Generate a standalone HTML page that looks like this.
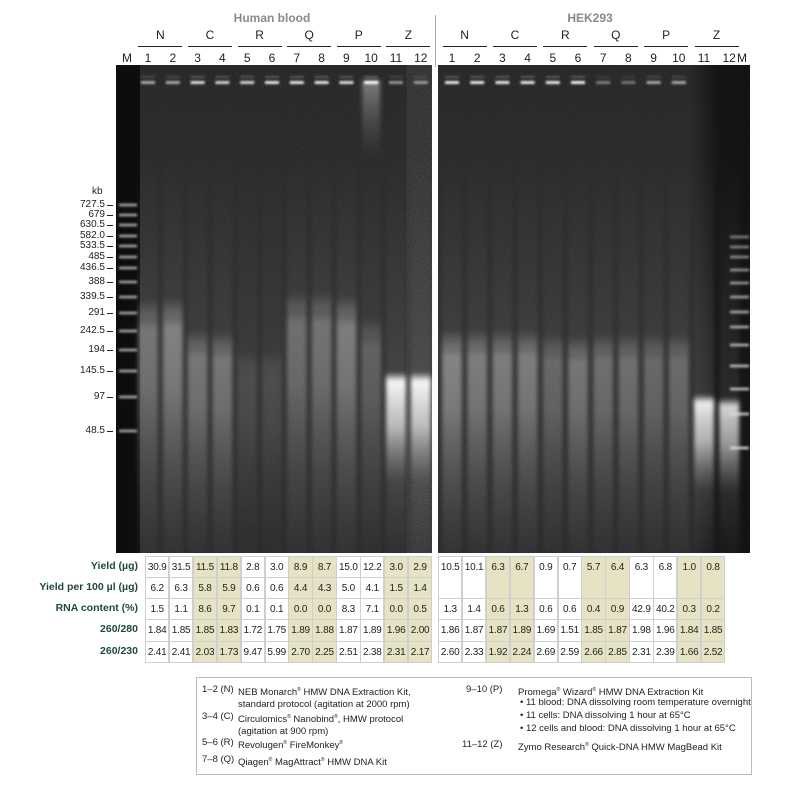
<!DOCTYPE html>
<html><head><meta charset="utf-8">
<style>
body{margin:0;background:#fff;font-family:"Liberation Sans",sans-serif;}
#root{position:relative;width:800px;height:786px;overflow:hidden;}
.t{position:absolute;white-space:nowrap;}
</style></head>
<body>
<div id="root">
<svg id="gel" width="800" height="786" style="position:absolute;left:0;top:0">
<defs>
<filter id="blur2" x="-40%" y="-10%" width="180%" height="120%"><feGaussianBlur stdDeviation="2.2"/></filter>
<filter id="blur1" x="-40%" y="-100%" width="180%" height="300%"><feGaussianBlur stdDeviation="1"/></filter>
<filter id="noise"><feTurbulence type="fractalNoise" baseFrequency="0.9" numOctaves="1" seed="3"/><feColorMatrix values="0 0 0 0 1 0 0 0 0 1 0 0 0 0 1 0 0 0 0.12 0"/></filter>
<linearGradient id="bgL" x1="0" y1="0" x2="0" y2="1"><stop offset="0" stop-color="#1c1c1c"/><stop offset="0.6" stop-color="#252525"/><stop offset="1" stop-color="#1e1e1e"/></linearGradient>
<linearGradient id="hz" x1="0" y1="0" x2="0" y2="1"><stop offset="0" stop-color="#777" stop-opacity="0"/><stop offset="1" stop-color="#777" stop-opacity="1"/></linearGradient>
<linearGradient id="rdark" x1="0" y1="0" x2="1" y2="0"><stop offset="0" stop-color="#0e0e0e" stop-opacity="0"/><stop offset="0.5" stop-color="#0e0e0e" stop-opacity="0.8"/><stop offset="1" stop-color="#0e0e0e" stop-opacity="0.8"/></linearGradient>
</defs>
<g id="panels"></g>
<g id="lanes"></g>
</svg>
<div id="txt"></div>
</div>
<script>
// ---- data ----
const kbLabels = [727.5,679,630.5,582.0,533.5,485,436.5,388,339.5,291,242.5,194,145.5,97,48.5];
const kbLabelText = ["727.5","679","630.5","582.0","533.5","485","436.5","388","339.5","291","242.5","194","145.5","97","48.5"];
const groups = ["N","C","R","Q","P","Z"];
const rowLabels = ["Yield (µg)","Yield per 100 µl (µg)","RNA content (%)","260/280","260/230"];
const bloodYield = ["30.9","31.5","11.5","11.8","2.8","3.0","8.9","8.7","15.0","12.2","3.0","2.9"];
const bloodYield100 = ["6.2","6.3","5.8","5.9","0.6","0.6","4.4","4.3","5.0","4.1","1.5","1.4"];
const bloodRNA = ["1.5","1.1","8.6","9.7","0.1","0.1","0.0","0.0","8.3","7.1","0.0","0.5"];
const blood280 = ["1.84","1.85","1.85","1.83","1.72","1.75","1.89","1.88","1.87","1.89","1.96","2.00"];
const blood230 = ["2.41","2.41","2.03","1.73","9.47","5.99","2.70","2.25","2.51","2.38","2.31","2.17"];
const hekYield = ["10.5","10.1","6.3","6.7","0.9","0.7","5.7","6.4","6.3","6.8","1.0","0.8"];
const hekRNA = ["1.3","1.4","0.6","1.3","0.6","0.6","0.4","0.9","42.9","40.2","0.3","0.2"];
const hek280 = ["1.86","1.87","1.87","1.89","1.69","1.51","1.85","1.87","1.98","1.96","1.84","1.85"];
const hek230 = ["2.60","2.33","1.92","2.24","2.69","2.59","2.66","2.85","2.31","2.39","1.66","2.52"];
// smear: top size (kb), brightness (0-1), well brightness
const bloodSmearTop = [280,285,200,195,150,150,300,300,290,230,110,110];
const bloodSmearBright = [0.5,0.58,0.5,0.5,0.2,0.2,0.45,0.48,0.55,0.35,0.95,0.95];
const bloodWell = [0.6,0.6,0.85,0.8,0.8,0.9,0.9,0.9,0.85,1.0,0.5,0.5];
const hekSmearTop = [200,200,200,200,190,185,190,190,190,190,75,70];
const hekSmearBright = [0.6,0.55,0.55,0.55,0.4,0.5,0.45,0.45,0.4,0.42,0.9,0.8];
const hekWell = [0.9,0.9,0.9,0.9,0.9,0.95,0.4,0.35,0.6,0.6,0,0];

// ---- scales ----
const kbY = [205,215,225,236,246,257,268,282,297,313,331,350,371,397,431];
function yOfKb(k){
  if(k>=kbLabels[0]) return kbY[0];
  for(let i=0;i<kbLabels.length-1;i++){
    const a=kbLabels[i],b=kbLabels[i+1];
    if(k<=a&&k>=b) return kbY[i]+(a-k)/(a-b)*(kbY[i+1]-kbY[i]);
  }
  return kbY[kbY.length-1]+(48.5-k)*0.7;
}
const NS="http://www.w3.org/2000/svg";
const L={x0:116,x1:432,lane0:148,step:24.8}, R={x0:438,x1:750,lane0:452,step:25.2};
const GT=65, GB=553;
function laneX(p,i){return p.lane0+p.step*i;}
function mk(tag,attrs,parent){const e=document.createElementNS(NS,tag);for(const k in attrs)e.setAttribute(k,attrs[k]);parent.appendChild(e);return e;}

const panels=document.getElementById('panels'), lanes=document.getElementById('lanes');
[L,R].forEach((p,pi)=>{
  const r=mk('rect',{x:p.x0,y:GT,width:p.x1-p.x0,height:GB-GT,fill:'url(#bgL)'},panels);
  
  
  mk('rect',{x:p.x0,y:GT,width:p.x1-p.x0,height:GB-GT,filter:'url(#noise)'},panels);
});
mk('rect',{x:116,y:GT,width:24,height:GB-GT,fill:'#0d0d0d'},panels);
mk('rect',{x:690,y:GT,width:60,height:GB-GT,fill:'url(#rdark)'},panels);

function drawLanes(p,tops,bright,wells,prefix){
  for(let i=0;i<12;i++){
    const cx=laneX(p,i), top=yOfKb(tops[i]), b=bright[i];
    const id=prefix+'g'+i;
    const g=mk('linearGradient',{id:id,x1:0,y1:0,x2:0,y2:1},document.querySelector('defs'));
    const big=tops[i]<120;
    const h=GB-top+20;
    if(big){
      mk('stop',{offset:0,'stop-color':'#fff','stop-opacity':0},g);
      mk('stop',{offset:0.05,'stop-color':'#fff','stop-opacity':b},g);
      mk('stop',{offset:0.3,'stop-color':'#eee','stop-opacity':b*0.75},g);
      mk('stop',{offset:0.6,'stop-color':'#aaa','stop-opacity':b*0.2},g);
      mk('stop',{offset:1,'stop-color':'#888','stop-opacity':0.05},g);
    } else {
      mk('stop',{offset:0,'stop-color':'#ddd','stop-opacity':0},g);
      mk('stop',{offset:0.12,'stop-color':'#ddd','stop-opacity':b*0.8},g);
      mk('stop',{offset:0.35,'stop-color':'#ddd','stop-opacity':b*0.7},g);
      mk('stop',{offset:0.7,'stop-color':'#bbb','stop-opacity':b*0.35},g);
      mk('stop',{offset:1,'stop-color':'#999','stop-opacity':b*0.12},g);
    }
    mk('rect',{x:cx-10,y:150,width:20,height:top-150,fill:'url(#hz)',opacity:0.12+0.15*b,filter:'url(#blur2)'},lanes);
    const s=mk('rect',{x:cx-10,y:top-18,width:20,height:h,fill:'url(#'+id+')',filter:'url(#blur2)',rx:4},lanes);
    
    
    if(wells[i]>0){
      const w=mk('rect',{x:cx-7,y:81,width:14,height:3,fill:'#fff',opacity:wells[i],filter:'url(#blur1)'},lanes);
      
      
      mk('rect',{x:cx-7,y:76,width:14,height:2,fill:'#999',opacity:wells[i]*0.5,filter:'url(#blur1)'},lanes);
    }
  }
}
drawLanes(L,bloodSmearTop,bloodSmearBright,bloodWell,'blood');
drawLanes(R,hekSmearTop,hekSmearBright,hekWell,'hek');
(function(){const g=mk('linearGradient',{id:'hzd',x1:0,y1:0,x2:0,y2:1},document.querySelector('defs'));
mk('stop',{offset:0,'stop-color':'#fff','stop-opacity':1},g);mk('stop',{offset:1,'stop-color':'#888','stop-opacity':0},g);})();
mk('rect',{x:laneX(L,9)-9,y:80,width:18,height:80,fill:'url(#hzd)',opacity:0.4,filter:'url(#blur2)'},lanes);
// ladders
kbLabels.forEach((k,i)=>{
  const y=yOfKb(k);
  const b=mk('rect',{x:119,y:y-1.5,width:18,height:3,fill:'#ccc',opacity:0.7,filter:'url(#blur1)'},lanes);
  
  
});
const rightLadder=[237,247,257,270,283,297,312,327,345,366,389,414,448];
rightLadder.forEach((y,i)=>{
  const b=mk('rect',{x:730,y:y-1.5,width:19,height:3,fill:'#ddd',opacity:0.45+i*0.03,filter:'url(#blur1)'},lanes);
  
  
});

// ---- text ----
const T=document.getElementById('txt');
function txt(s,x,y,st,name){const d=document.createElement('div');d.className='t';d.textContent=s;d.style.left=x+'px';d.style.top=y+'px';d.style.cssText+=st||'';


T.appendChild(d);return d;}
function ctxt(s,cx,y,st,name){const d=txt(s,cx-40,y,'width:80px;text-align:center;'+(st||''),name);return d;}
ctxt('Human blood',272,11,'font-size:12px;font-weight:bold;color:#8a8a8a;','title-human-blood');
ctxt('HEK293',590,11,'font-size:12px;font-weight:bold;color:#8a8a8a;','title-hek293');
const dv=document.createElement('div');dv.style.cssText='position:absolute;left:435px;top:15px;width:1px;height:52px;background:#aaa';


T.appendChild(dv);
[L,R].forEach((p,pi)=>{
  groups.forEach((g,gi)=>{
    const cx=(laneX(p,gi*2)+laneX(p,gi*2+1))/2;
    ctxt(g,cx,28,'font-size:12px;color:#222;','group-label-'+g);
    const u=document.createElement('div');u.style.cssText='position:absolute;top:46px;height:1.2px;background:#222;left:'+(cx-22)+'px;width:44px';
    
    
    T.appendChild(u);
  });
  for(let i=0;i<12;i++) ctxt(String(i+1),laneX(p,i),51,'font-size:12px;color:#222;','lane-number');
});
ctxt('M',127,51,'font-size:12px;color:#222;','marker-label-left');
ctxt('M',742,51,'font-size:12px;color:#222;','marker-label-right');
txt('kb',92,186,'font-size:10px;color:#222;','kb-unit-label');
kbLabels.forEach((k,i)=>{
  const y=yOfKb(k);
  txt(kbLabelText[i],50,y-6,'width:55px;text-align:right;font-size:10px;color:#222;line-height:12px','kb-label');
  const tk=document.createElement('div');tk.style.cssText='position:absolute;left:107px;width:6px;height:1px;background:#222;top:'+y+'px';
  
  
  T.appendChild(tk);
});
// table
const rowY=[556,577,598,619,641,662];
const hl=[2,3,6,7,10,11];
rowLabels.forEach((s,r)=>txt(s,0,rowY[r]+4,'width:138px;text-align:right;font-size:10.5px;font-weight:bold;color:#1e4a3a;','row-label'));
function cell(x,y,w,h,v,fill,name){
  const d=document.createElement('div');
  d.style.cssText='position:absolute;box-sizing:border-box;border:0.5px solid #cfcfcf;font-size:10px;letter-spacing:-0.2px;color:#222;text-align:center;padding-top:5px;left:'+x+'px;top:'+y+'px;width:'+w+'px;height:'+h+'px;background:'+fill;
  d.textContent=v;
  
  
  T.appendChild(d);
}
const CW=23.9;
const bRows=[bloodYield,bloodYield100,bloodRNA,blood280,blood230];
bRows.forEach((arr,r)=>arr.forEach((v,i)=>cell(145+i*CW,rowY[r],CW+0.5,rowY[r+1]-rowY[r]+0.5,v,hl.includes(i)?'#e5e3c3':'#fff','blood-table-cell')));
const hRows=[hekYield,null,hekRNA,hek280,hek230];
hRows.forEach((arr,r)=>{ if(!arr) return;
  arr.forEach((v,i)=>{const h=r===0?rowY[2]-rowY[0]:rowY[r+1]-rowY[r];
    cell(438+i*CW,rowY[r],CW+0.5,h+0.5,v,hl.includes(i)?'#e5e3c3':'#fff','hek-table-cell');});
});
// legend
const box=document.createElement('div');box.style.cssText='position:absolute;left:196px;top:677px;width:556px;height:98px;border:1px solid #bdbdbd;box-sizing:border-box';


T.appendChild(box);
const ls='font-size:9.5px;color:#222;line-height:12px;';
const sup='<sup style="font-size:5px">®</sup>';
function lg(a,x,y,name){const d=txt('',x,y,ls,name);d.innerHTML=a;return d;}
lg('1–2 (N)',202,684,'legend-key');lg('NEB Monarch'+sup+' HMW DNA Extraction Kit,<br>standard protocol (agitation at 2000 rpm)',238,684,'legend-entry');
lg('3–4 (C)',202,711,'legend-key');lg('Circulomics'+sup+' Nanobind'+sup+', HMW protocol<br>(agitation at 900 rpm)',238,711,'legend-entry');
lg('5–6 (R)',202,737,'legend-key');lg('Revolugen'+sup+' FireMonkey'+sup,238,737,'legend-entry');
lg('7–8 (Q)',202,754,'legend-key');lg('Qiagen'+sup+' MagAttract'+sup+' HMW DNA Kit',238,754,'legend-entry');
lg('9–10 (P)',466,684,'legend-key');lg('Promega'+sup+' Wizard'+sup+' HMW DNA Extraction Kit',518,684,'legend-entry');
lg('• 11 blood: DNA dissolving room temperature overnight',520,697,'legend-entry');
lg('• 11 cells: DNA dissolving 1 hour at 65°C',520,710,'legend-entry');
lg('• 12 cells and blood: DNA dissolving 1 hour at 65°C',520,723,'legend-entry');
lg('11–12 (Z)',462,739,'legend-key');lg('Zymo Research'+sup+' Quick-DNA HMW MagBead Kit',518,739,'legend-entry');
</script>
</body></html>
